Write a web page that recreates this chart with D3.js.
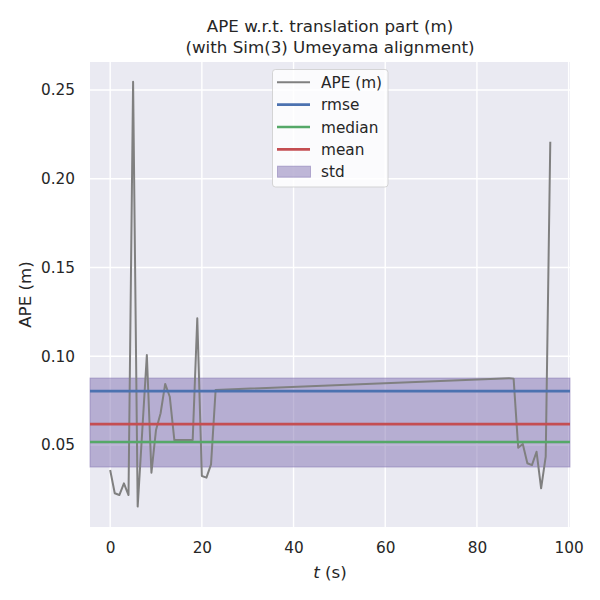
<!DOCTYPE html>
<html>
<head>
<meta charset="utf-8">
<script src="https://d3js.org/d3.v7.min.js"></script>
<style>
  body { margin: 0; background: #fff; }
  text { font-family: "DejaVu Sans", sans-serif; fill: #262626; }
</style>
</head>
<body>
<div id="my_dataviz"></div>
<script>

// time stamps (s) and APE values (m)
var times = [0, 1, 2, 3, 4, 5, 6, 7, 8, 9, 10, 11, 12, 13, 14, 15, 16, 17, 18, 19, 20, 21, 22, 23,
             87, 88, 89, 90, 91, 92, 93, 94, 95, 96];
var ape = [0.0359, 0.0228, 0.0218, 0.0284, 0.0218, 0.2547, 0.0153, 0.058, 0.1007, 0.0344,
           0.0585, 0.0679, 0.0844, 0.0772, 0.0528, 0.0528, 0.0528, 0.0528, 0.0528, 0.1214,
           0.0325, 0.0316, 0.0391, 0.0810,
           0.0876, 0.0874, 0.0485, 0.0506, 0.0397, 0.0387, 0.0462, 0.0256, 0.0434, 0.2209];

// statistics
var statNames = ["rmse", "median", "mean"];
var statValues = [0.0804, 0.0517, 0.0618];
var stdBand = [0.0376, 0.0877];

// ticks
var xTicks = [0, 20, 40, 60, 80, 100];
var yTicks = [0.05, 0.10, 0.15, 0.20, 0.25];

var legendLabels = ["APE (m)", "rmse", "median", "mean", "std"];

var colors = {rmse: "#4c72b0", median: "#55a868", mean: "#c44e52", ape: "gray", std: "#8172b2"};

var W = 600, H = 600;
var box = {left: 90, right: 570, top: 62, bottom: 527};

var svg = d3.select("#my_dataviz")
  .append("svg")
    .attr("width", W)
    .attr("height", H);

var x = d3.scaleLinear().domain([-4.4, 100.3]).range([box.left, box.right]);
var y = d3.scaleLinear().domain([0.0038, 0.2658]).range([box.bottom, box.top]);

// axes background
svg.append("rect")
  .attr("x", box.left).attr("y", box.top)
  .attr("width", box.right - box.left).attr("height", box.bottom - box.top)
  .attr("fill", "#eaeaf2");

// grid
svg.selectAll("xgrid")
  .data(xTicks)
  .enter()
  .append("line")
    .attr("x1", function(d){ return x(d) }).attr("x2", function(d){ return x(d) })
    .attr("y1", box.top).attr("y2", box.bottom)
    .attr("stroke", "#fff").attr("stroke-width", 1.4);
svg.selectAll("ygrid")
  .data(yTicks)
  .enter()
  .append("line")
    .attr("y1", function(d){ return y(d) }).attr("y2", function(d){ return y(d) })
    .attr("x1", box.left).attr("x2", box.right)
    .attr("stroke", "#fff").attr("stroke-width", 1.4);

// std band
svg.append("rect")
  .attr("x", box.left).attr("width", box.right - box.left)
  .attr("y", y(stdBand[1]))
  .attr("height", y(stdBand[0]) - y(stdBand[1]))
  .attr("fill", colors.std).attr("fill-opacity", 0.5)
  .attr("stroke", colors.std).attr("stroke-opacity", 0.5).attr("stroke-width", 1);

// APE line
var line = d3.line()
  .x(function(d, i){ return x(times[i]) })
  .y(function(d){ return y(d) });
svg.append("path")
  .datum(ape)
  .attr("d", line)
  .attr("fill", "none")
  .attr("stroke", colors.ape)
  .attr("stroke-width", 2)
  .attr("stroke-linejoin", "round");

// statistic lines
svg.selectAll("statlines")
  .data(statNames)
  .enter()
  .append("line")
    .attr("x1", box.left).attr("x2", box.right)
    .attr("y1", function(d, i){ return y(statValues[i]) })
    .attr("y2", function(d, i){ return y(statValues[i]) })
    .attr("stroke", function(d){ return colors[d] })
    .attr("stroke-width", 2.7);

// axes
var xAxis = svg.append("g")
  .attr("transform", "translate(0," + box.bottom + ")")
  .call(d3.axisBottom(x).tickValues(xTicks).tickSize(0).tickPadding(15).tickFormat(d3.format("d")));
var yAxis = svg.append("g")
  .attr("transform", "translate(" + box.left + ",0)")
  .call(d3.axisLeft(y).tickValues(yTicks).tickSize(0).tickPadding(15).tickFormat(d3.format(".2f")));
[xAxis, yAxis].forEach(function(a){
  a.select(".domain").remove();
  a.selectAll("text")
    .style("font-family", "DejaVu Sans, sans-serif")
    .style("font-size", "15.3px")
    .attr("fill", "#262626");
});

// axis labels
var xl = svg.append("text")
  .attr("x", (box.left + box.right) / 2)
  .attr("y", 578)
  .attr("text-anchor", "middle")
  .style("font-size", "16.7px");
xl.append("tspan").style("font-style", "italic").text("t");
xl.append("tspan").text(" (s)");

svg.append("text")
  .attr("transform", "translate(25," + (box.top + box.bottom) / 2 + ") rotate(-90)")
  .attr("text-anchor", "middle")
  .attr("dy", "0.35em")
  .style("font-size", "16.7px")
  .text("APE (m)");

// title
svg.append("text")
  .attr("x", (box.left + box.right) / 2).attr("y", 31.5)
  .attr("text-anchor", "middle")
  .style("font-size", "16.7px")
  .text("APE w.r.t. translation part (m)");
svg.append("text")
  .attr("x", (box.left + box.right) / 2).attr("y", 53)
  .attr("text-anchor", "middle")
  .style("font-size", "16.7px")
  .text("(with Sim(3) Umeyama alignment)");

// legend
var lg = svg.append("g");
lg.append("rect")
  .attr("x", 272.5).attr("y", 69.5)
  .attr("width", 115.5).attr("height", 117.5)
  .attr("rx", 3)
  .attr("fill", "#fff").attr("fill-opacity", 0.8)
  .attr("stroke", "#cccccc").attr("stroke-opacity", 0.8);

var legendKeys = ["ape", "rmse", "median", "mean", "std"];
var rowY = function(i){ return 82.3 + i * 22.35 };

lg.selectAll("handles")
  .data(legendKeys.slice(0, 4))
  .enter()
  .append("line")
    .attr("x1", 277).attr("x2", 310)
    .attr("y1", function(d, i){ return rowY(i) })
    .attr("y2", function(d, i){ return rowY(i) })
    .attr("stroke", function(d){ return colors[d] })
    .attr("stroke-width", function(d){ return d === "ape" ? 2 : 2.7 });
lg.append("rect")
  .attr("x", 277.5).attr("y", rowY(4) - 5.5)
  .attr("width", 33).attr("height", 11)
  .attr("fill", colors.std).attr("fill-opacity", 0.5)
  .attr("stroke", colors.std).attr("stroke-opacity", 0.5);

lg.selectAll("labels")
  .data(legendLabels)
  .enter()
  .append("text")
    .attr("x", 321)
    .attr("y", function(d, i){ return rowY(i) })
    .attr("dy", "0.36em")
    .style("font-size", "15.3px")
    .text(function(d){ return d });

</script>
</body>
</html>
